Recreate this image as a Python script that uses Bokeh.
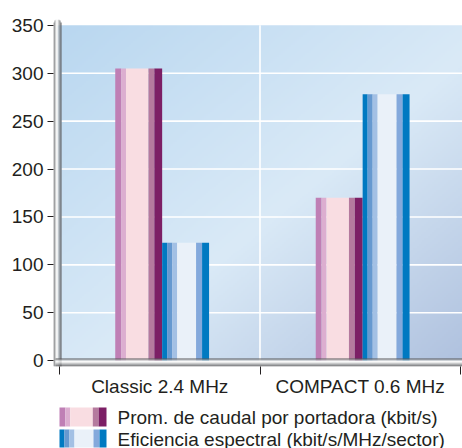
import numpy as np
from bokeh.plotting import figure
from bokeh.models import Range1d, FixedTicker
from bokeh.layouts import column
from bokeh.embed import file_html
from bokeh.resources import INLINE
from bokeh.core.properties import value

# ---------------- data ----------------
categories = ["Classic 2.4 MHz", "COMPACT 0.6 MHz"]
series_names = ["Prom. de caudal por portadora (kbit/s)",
                "Eficiencia espectral (kbit/s/MHz/sector)"]
caudal = [305, 170]
eficiencia = [123, 278]
y_ticks = [0, 50, 100, 150, 200, 250, 300, 350]

# ---------------- styles ----------------
FONT = "Liberation Sans"
TXT = "#231f20"
FS = "19px"
pink_stripes = [(0.0, 0.125, "#bf7fb5"), (0.125, 0.229, "#dcaed0"),
                (0.229, 0.708, "#f9dde2"), (0.708, 0.833, "#b57a9e"),
                (0.833, 1.0, "#7c1f65")]
blue_stripes = [(0.0, 0.106, "#0079c1"), (0.106, 0.213, "#6699d0"),
                (0.213, 0.319, "#a3c0e4"), (0.319, 0.723, "#eaf1f9"),
                (0.723, 0.851, "#84a9dc"), (0.851, 1.0, "#0079c1")]

W, H = 462, 400
FL, FR, FT, FB = 53, 462, 19, 366      # frame edges (figure px)
X0PX, XU = 59, 200.5                   # category boundary 0, px per category
Y0PX, YU = 360.2, 0.9584               # value 0 position, px per unit


def dx(px):
    return (px - X0PX) / XU


def dy(py):
    return (Y0PX - py) / YU


p = figure(width=W, height=H, output_backend="svg", toolbar_location=None,
           x_range=Range1d(dx(FL), dx(FR)), y_range=Range1d(dy(FB), dy(FT)),
           min_border_left=FL, min_border_right=W - FR,
           min_border_top=FT, min_border_bottom=H - FB,
           background_fill_color="white", border_fill_color="white",
           outline_line_color=None)
p.grid.visible = False

# background gradient
nx, ny = 205, 170
gx, gy = np.meshgrid(np.linspace(0, 1, nx), np.linspace(0, 1, ny))
t = (gx + (1 - gy)) / 2
stops = [0.0, 0.55, 1.0]
cr = [185, 218, 176]
cg = [215, 234, 194]
cb = [240, 247, 223]
img = np.empty((ny, nx), dtype=np.uint32)
view = img.view(dtype=np.uint8).reshape((ny, nx, 4))
view[..., 0] = np.interp(t, stops, cr).astype(np.uint8)
view[..., 1] = np.interp(t, stops, cg).astype(np.uint8)
view[..., 2] = np.interp(t, stops, cb).astype(np.uint8)
view[..., 3] = 255
x_img0 = dx(FL + 4)
p.image_rgba(image=[img], x=x_img0, y=0, dw=dx(FR) - x_img0, dh=y_ticks[-1])

# grid lines
inner = y_ticks[1:-1]
p.segment(x0=[dx(FL + 8)] * len(inner), y0=inner, x1=[dx(FR)] * len(inner),
          y1=inner, line_color="white", line_width=1.6)
bounds = list(range(1, len(categories)))
p.segment(x0=bounds, y0=[0] * len(bounds), x1=bounds,
          y1=[y_ticks[-1]] * len(bounds), line_color="white", line_width=1.6)

# bars
bar_w = 0.234
group_c = 0.512
for s, (vals, stripes) in enumerate([(caudal, pink_stripes),
                                     (eficiencia, blue_stripes)]):
    for i in range(len(categories)):
        left = i + group_c - bar_w + s * bar_w
        for f0, f1, c in stripes:
            p.quad(left=left + f0 * bar_w, right=left + f1 * bar_w,
                   bottom=0, top=vals[i], fill_color=c, line_color=None)

# metallic rods (left and bottom)
rod_v = ["#58595b", "#939598", "#d1d3d4", "#ffffff",
         "#e6e7e8", "#a7a9ac", "#808285", "#5a5b5d"]
cap = [3, 1, 0, 0, 0, 0, 1, 3]
for k, c in enumerate(rod_v):
    p.quad(left=dx(FL + k), right=dx(FL + k + 1), bottom=dy(FB),
           top=dy(FT + cap[k]), fill_color=c, line_color=None)
rod_h = ["#5a5b5d", "#9d9fa2", "#e6e7e8", "#ffffff",
         "#d1d3d4", "#a7a9ac", "#808285", "#58595b"]
for k, c in enumerate(rod_h):
    top_px = FB - 8 + k
    p.quad(left=dx(FL + 2), right=dx(FR), bottom=dy(top_px + 1),
           top=dy(top_px), fill_color=c, line_color=None)

# axes
xa = p.xaxis[0]
xa.ticker = FixedTicker(ticks=[i + 0.5 for i in range(len(categories))],
                        minor_ticks=list(range(len(categories) + 1)))
xa.major_label_overrides = {i + 0.5: c for i, c in enumerate(categories)}
xa.axis_line_color = None
xa.major_tick_line_color = None
xa.major_tick_out = 0
xa.major_tick_in = 0
xa.minor_tick_line_color = TXT
xa.minor_tick_out = 8
xa.minor_tick_in = 0
xa.major_label_standoff = 1
xa.major_label_text_font = FONT
xa.major_label_text_font_size = FS
xa.major_label_text_color = TXT

ya = p.yaxis[0]
ya.ticker = FixedTicker(ticks=y_ticks)
ya.axis_line_color = None
ya.major_tick_out = 6
ya.major_tick_in = 0
ya.major_tick_line_color = TXT
ya.minor_tick_line_color = None
ya.major_label_standoff = 4
ya.major_label_text_font = FONT
ya.major_label_text_font_size = FS
ya.major_label_text_color = TXT

# legend figure (frame aligned with the main frame; x in figure px)
LH = 48
lg = figure(width=W, height=LH, output_backend="svg", toolbar_location=None,
            x_range=Range1d(FL, FR), y_range=Range1d(LH, 0),
            min_border_left=FL, min_border_right=W - FR,
            min_border_top=0, min_border_bottom=0,
            x_axis_type=None, y_axis_type=None,
            outline_line_color=None, background_fill_color="white",
            border_fill_color="white")
lg.grid.visible = False
sw_l, sw_r = 59, 106
rows = [(7, 26), (29, 47)]
for (top, bot), stripes, name in zip(rows, [pink_stripes, blue_stripes],
                                     series_names):
    for f0, f1, c in stripes:
        lg.quad(left=sw_l + f0 * (sw_r - sw_l), right=sw_l + f1 * (sw_r - sw_l),
                top=top, bottom=bot, fill_color=c, line_color=None)
    lg.text(x=[117], y=[(top + bot) / 2 + 0.5], text=[name],
            text_font=value(FONT), text_font_size=FS, text_color=TXT,
            text_baseline="middle", text_align="left")

layout = column(p, lg, spacing=0)
open("out.html", "w").write(file_html(layout, INLINE))
